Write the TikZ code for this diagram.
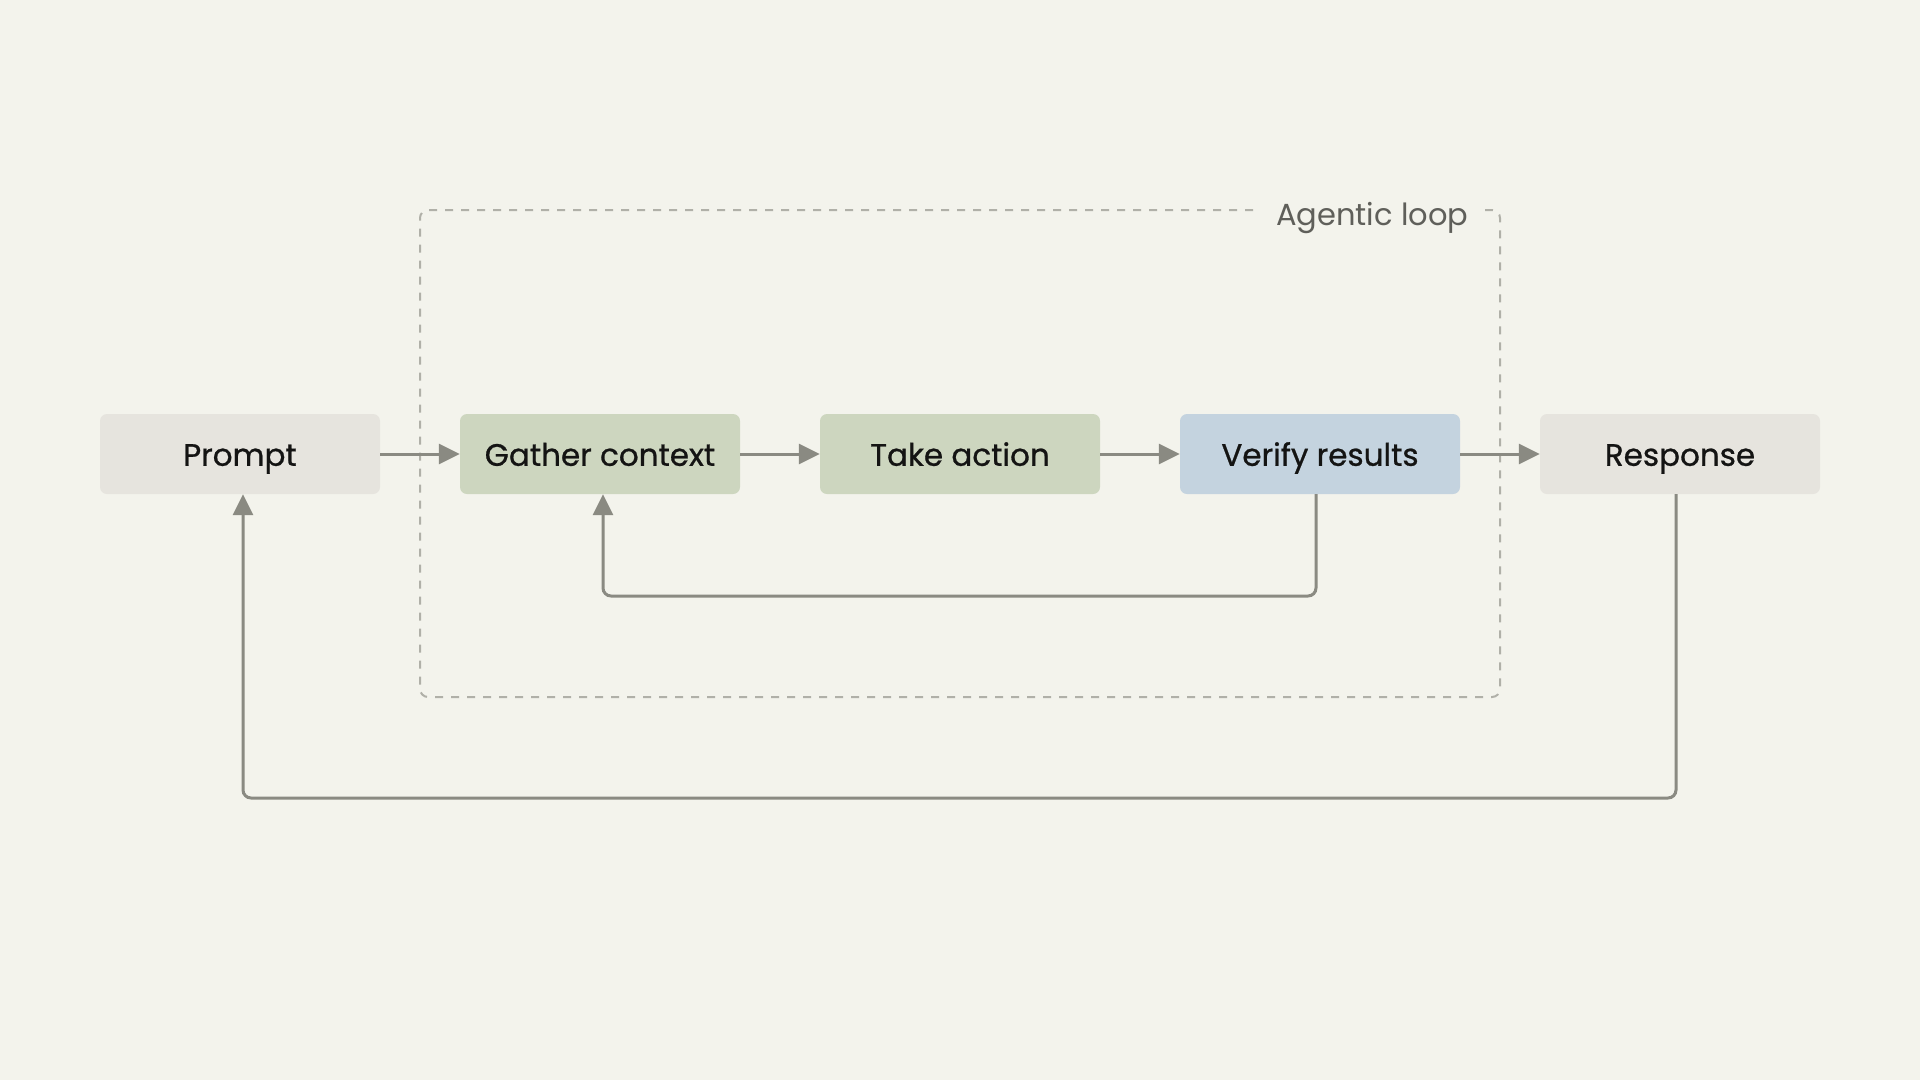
\documentclass[tikz,border=0pt]{standalone}
\usepackage{fontspec}
\setmainfont{Poppins}[Ligatures={NoCommon}]
\newfontfamily\boxfont{Poppins}[Ligatures={NoCommon}, FakeBold=0.8]
\usetikzlibrary{arrows.meta}
\definecolor{bgc}{HTML}{F3F3EC}
\definecolor{greyfill}{HTML}{E6E4DE}
\definecolor{greenfill}{HTML}{CDD6BF}
\definecolor{bluefill}{HTML}{C4D3DF}
\definecolor{arrowc}{HTML}{8A8A82}
\definecolor{dashc}{HTML}{B0B0A8}
\definecolor{txtc}{HTML}{141413}
\definecolor{labelc}{HTML}{5F5F5A}
\tikzset{
  box/.style={rectangle, rounded corners=7pt, minimum width=280pt, minimum height=80pt,
    inner sep=0pt, text height=23.6pt, text depth=0pt, text=txtc, font=\boxfont\fontsize{31}{36}\selectfont},
  flow/.style={draw=arrowc, line width=3pt, -{Triangle[length=21pt,width=20pt]}},
  loopline/.style={draw=dashc, line width=2pt, dash pattern=on 8pt off 8pt, rounded corners=8pt},
}
\begin{document}
\begin{tikzpicture}[x=1pt,y=-1pt]
\fill[bgc] (0,0) rectangle (1920,1080);
\useasboundingbox (0,0) rectangle (1920,1080);
% loop frame
\draw[loopline] (1253,210) -- (420,210) -- (420,697) -- (1500,697) -- (1500,210) -- (1485,210);
\node[anchor=base west, inner sep=0pt, text=labelc, font=\fontsize{30.5}{36}\selectfont] (lbl) at (1276,225) {Agentic loop};
% boxes
\node[box, fill=greyfill] (p) at (240,454) {Prompt};
\node[box, fill=greenfill] (g) at (600,454) {Gather context};
\node[box, fill=greenfill] (t) at (960,454) {Take action};
\node[box, fill=bluefill] (v) at (1320,454) {Verify results};
\node[box, fill=greyfill] (r) at (1680,454) {Response};
% coordinates for return paths
\coordinate (inner) at (0,596);
\coordinate (outer) at (0,798);
% forward arrows
\draw[flow] (p.east) -- (g.west);
\draw[flow] (g.east) -- (t.west);
\draw[flow] (t.east) -- (v.west);
\draw[flow] (v.east) -- (r.west);
% inner loop
\draw[flow, rounded corners=8pt] ([xshift=-4pt]v.south) -- ([xshift=-4pt]v.south |- inner) -- ([xshift=3pt]g.south |- inner) -- ([xshift=3pt]g.south);
% outer loop
\draw[flow, rounded corners=8pt] ([xshift=-4pt]r.south) -- ([xshift=-4pt]r.south |- outer) -- ([xshift=3pt]p.south |- outer) -- ([xshift=3pt]p.south);
\end{tikzpicture}
\end{document}
